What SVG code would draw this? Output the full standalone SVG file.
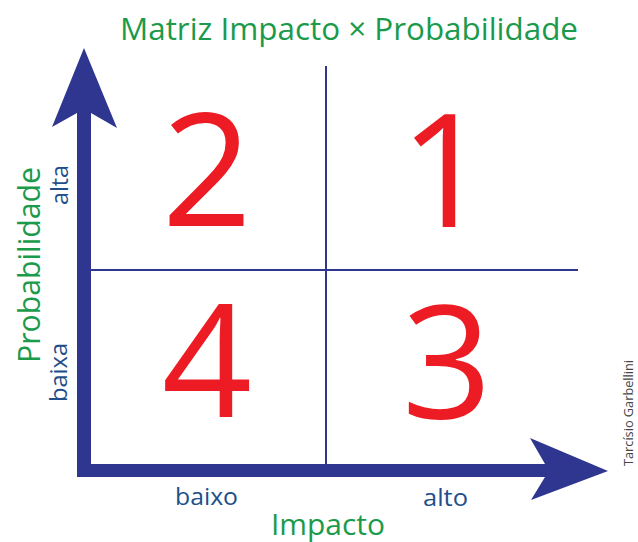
<svg xmlns="http://www.w3.org/2000/svg" width="638" height="542" viewBox="0 0 638 542">
<style>
.g{fill:#1b9a4b;font-family:"Open Sans","Liberation Sans",sans-serif}
.b{fill:#1e4f8a;font-family:"Open Sans","Liberation Sans",sans-serif;font-size:23px}
.n{fill:#ed1c24;font-family:"Open Sans","Liberation Sans",sans-serif;font-size:158px;text-anchor:middle}
.ax{fill:#2e3690}
.ln{stroke:#2e3690;stroke-width:2;fill:none}
</style>
<rect width="638" height="542" fill="#fff"/>
<g id="connectors">
<line class="ln" x1="326" y1="66" x2="326" y2="465"/>
<line class="ln" x1="91" y1="270" x2="578" y2="270"/>
<path class="ax" d="M77,113 L52,127 L84,48 L117,128 L91,113 L91,464 L545,464 L530,438 L608,471 L531,500 L545,477 L77,477 Z"/>
</g>
<g id="title"><text class="g" x="120" y="40" font-size="31" textLength="458" lengthAdjust="spacingAndGlyphs">Matriz Impacto × Probabilidade</text></g>
<g id="q2"><text class="n" x="207" y="226">2</text></g>
<g id="q1"><text class="n" x="445" y="227">1</text></g>
<g id="q4"><text class="n" x="207" y="417">4</text></g>
<g id="q3"><text class="n" x="447" y="418">3</text></g>
<g id="ylabel">
<text class="g" font-size="31" transform="translate(40,363) rotate(-90)" textLength="196" lengthAdjust="spacingAndGlyphs">Probabilidade</text>
<text class="b" transform="translate(68,205) rotate(-90)" textLength="40" lengthAdjust="spacingAndGlyphs">alta</text>
<text class="b" transform="translate(67,402) rotate(-90)" textLength="59" lengthAdjust="spacingAndGlyphs">baixa</text>
</g>
<g id="xlabel">
<text class="b" x="175" y="505" textLength="63" lengthAdjust="spacingAndGlyphs">baixo</text>
<text class="b" x="423" y="506" textLength="45" lengthAdjust="spacingAndGlyphs">alto</text>
<text class="g" x="271" y="535" font-size="29" textLength="114" lengthAdjust="spacingAndGlyphs">Impacto</text>
</g>
<g id="credit"><text transform="translate(633,466) rotate(-90)" font-family="'Open Sans','Liberation Sans',sans-serif" font-size="13" fill="#444" textLength="106" lengthAdjust="spacingAndGlyphs">Tarcísio Garbellini</text></g>
</svg>
